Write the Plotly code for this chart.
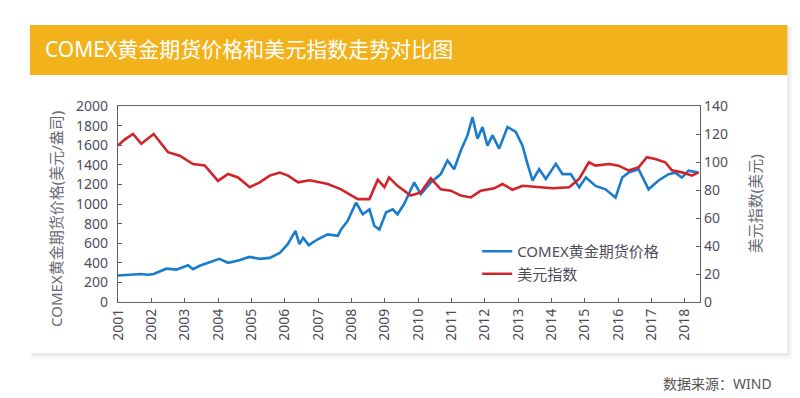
import plotly.graph_objects as go

# ---------------- data ----------------
gold_t = [2001.0, 2001.45, 2001.7, 2001.9, 2002.07, 2002.45, 2002.75, 2003.1, 2003.25, 2003.45,
          2003.84, 2004.04, 2004.3, 2004.64, 2004.94, 2005.25, 2005.55, 2005.85, 2006.09, 2006.32,
          2006.44, 2006.55, 2006.72, 2006.99, 2007.29, 2007.59, 2007.69, 2007.89, 2008.14, 2008.34,
          2008.54, 2008.69, 2008.84, 2009.04, 2009.24, 2009.38, 2009.58, 2009.88, 2010.08, 2010.38,
          2010.68, 2010.88, 2011.08, 2011.28, 2011.48, 2011.63, 2011.78, 2011.93, 2012.08, 2012.23,
          2012.43, 2012.68, 2012.93, 2013.13, 2013.28, 2013.43, 2013.63, 2013.83, 2014.13, 2014.33,
          2014.58, 2014.83, 2015.03, 2015.32, 2015.62, 2015.92, 2016.12, 2016.31, 2016.61, 2016.91,
          2017.21, 2017.51, 2017.71, 2017.91, 2018.11, 2018.41]
gold_v = [270, 280, 285, 278, 285, 340, 330, 375, 335, 370,
          415, 440, 400, 425, 460, 440, 450, 500, 590, 725,
          590, 655, 580, 640, 690, 675, 740, 830, 1015, 895,
          945, 775, 740, 915, 945, 895, 1000, 1220, 1100, 1220,
          1305, 1445, 1355, 1545, 1700, 1885, 1665, 1785, 1595, 1700,
          1565, 1785, 1735, 1595, 1410, 1240, 1355, 1255, 1410, 1305,
          1305, 1170, 1270, 1185, 1150, 1065, 1270, 1320, 1355, 1150,
          1240, 1305, 1320, 1270, 1340, 1320]

usd_t = [2001.0, 2001.2, 2001.45, 2001.7, 2002.07, 2002.5, 2002.85, 2003.25, 2003.6, 2004.0,
         2004.3, 2004.6, 2004.95, 2005.25, 2005.55, 2005.85, 2006.1, 2006.4, 2006.75, 2007.29,
         2007.69, 2008.19, 2008.54, 2008.79, 2008.99, 2009.13, 2009.38, 2009.78, 2010.08, 2010.38,
         2010.68, 2010.98, 2011.28, 2011.58, 2011.88, 2012.28, 2012.53, 2012.83, 2013.13, 2013.53,
         2014.03, 2014.53, 2014.83, 2015.12, 2015.32, 2015.72, 2016.01, 2016.31, 2016.61, 2016.86,
         2017.11, 2017.41, 2017.61, 2017.91, 2018.21, 2018.41]
usd_v = [111.8, 116, 120, 113, 120, 107, 104.5, 98.5, 97.5, 86.5,
         91.5, 89, 82, 85.5, 90.3, 92.5, 90.3, 85.5, 87, 84.3,
         80.5, 73.5, 73.5, 87.4, 82, 89, 83, 76, 78.3, 88.3,
         80.5, 79.5, 76, 74.7, 79.5, 81.2, 84.3, 80.2, 83, 82,
         81.2, 82, 88, 99.8, 97.4, 98.6, 97.4, 94, 96.2, 103.4,
         102.2, 99.8, 94, 92.6, 90.3, 92.6]

year_ticks = list(range(2001, 2019))
year_labels = [str(y) for y in year_ticks]
gold_ticks = list(range(0, 2001, 200))
usd_ticks = list(range(0, 141, 20))

names = ["COMEX黄金期货价格", "美元指数"]
title_text = "COMEX黄金期货价格和美元指数走势对比图"
left_title = "COMEX黄金期货价格(美元/盎司)"
right_title = "美元指数(美元)"
source_text = "数据来源：WIND"

# ---------------- layout helpers ----------------
W, H = 800, 398
PL, PR, PT, PB = 110, 691.7, 98, 294
def px(x):
    return (x - PL) / (PR - PL)
def py(y):
    return (PB - y) / (PB - PT)

FONT = "Noto Sans, Noto Sans CJK SC, sans-serif"
AX = "#5f5f6b"
TXT = "#4d4d5a"

fig = go.Figure()
fig.add_trace(go.Scatter(x=gold_t, y=gold_v, name=names[0], mode="lines",
                         line=dict(color="#1a7ccc", width=2.6)))
fig.add_trace(go.Scatter(x=usd_t, y=usd_v, name=names[1], mode="lines", yaxis="y2",
                         line=dict(color="#d2232a", width=2.6)))

shapes = [
    dict(type="rect", xref="paper", yref="paper", x0=px(24), x1=px(784), y0=py(351), y1=py(19),
         fillcolor="rgba(0,0,0,0.035)", line_width=0, layer="below"),
    dict(type="rect", xref="paper", yref="paper", x0=px(23), x1=px(781.5), y0=py(348), y1=py(18),
         fillcolor="rgba(0,0,0,0.05)", line_width=0, layer="below"),
    dict(type="rect", xref="paper", yref="paper", x0=px(22), x1=px(779), y0=py(345), y1=py(17),
         fillcolor="white", line_width=0, layer="below"),
    dict(type="rect", xref="paper", yref="paper", x0=px(22), x1=px(779), y0=py(67), y1=py(17),
         fillcolor="#f2b21c", line_width=0, layer="below"),
]

annotations = [
    dict(text=title_text, xref="paper", yref="paper", x=px(35), y=py(41), xanchor="left",
         yanchor="middle", showarrow=False, font=dict(family=FONT, size=21, color="white")),
    dict(text=left_title, xref="paper", yref="paper", x=px(48), y=py(211), textangle=-90,
         xanchor="center", yanchor="middle", showarrow=False,
         font=dict(family=FONT, size=15, color="#6a6a76")),
    dict(text=right_title, xref="paper", yref="paper", x=px(747), y=py(196), textangle=-90,
         xanchor="center", yanchor="middle", showarrow=False,
         font=dict(family=FONT, size=15, color="#6a6a76")),
    dict(text=source_text, xref="paper", yref="paper", x=px(766), y=py(375), xanchor="right",
         yanchor="middle", showarrow=False, font=dict(family=FONT, size=14, color="#555")),
]

fig.update_layout(
    width=W, height=H,
    margin=dict(l=PL, r=W - PR, t=PT, b=H - PB, pad=0),
    paper_bgcolor="white", plot_bgcolor="rgba(0,0,0,0)",
    font=dict(family=FONT, color=TXT),
    shapes=shapes, annotations=annotations,
    showlegend=True,
    legend=dict(x=px(469), y=py(227), xanchor="left", yanchor="top",
                bgcolor="rgba(0,0,0,0)", font=dict(family=FONT, size=15, color=TXT),
                itemwidth=30, tracegroupgap=0),
    xaxis=dict(range=[2001, 2001 + (PR - PL) / 33.33], tickvals=year_ticks, ticktext=year_labels,
               tickangle=-90, ticks="inside", ticklen=4, tickcolor=AX, showgrid=False,
               zeroline=False, showline=True, linecolor=AX, linewidth=1.3, mirror=True,
               tickfont=dict(size=14, color=TXT)),
    yaxis=dict(range=[0, 2000], tickvals=gold_ticks, ticks="inside", ticklen=4, tickcolor=AX,
               showgrid=False, zeroline=False, showline=True, linecolor=AX, linewidth=1.3,
               ticklabelstandoff=6, tickfont=dict(size=14, color=TXT)),
    yaxis2=dict(range=[0, 140], tickvals=usd_ticks, overlaying="y", side="right",
                ticks="inside", ticklen=4, tickcolor=AX, showgrid=False, zeroline=False,
                showline=True, linecolor=AX, linewidth=1.3,
                tickfont=dict(size=14, color=TXT)),
)

fig.write_html("out.html")
